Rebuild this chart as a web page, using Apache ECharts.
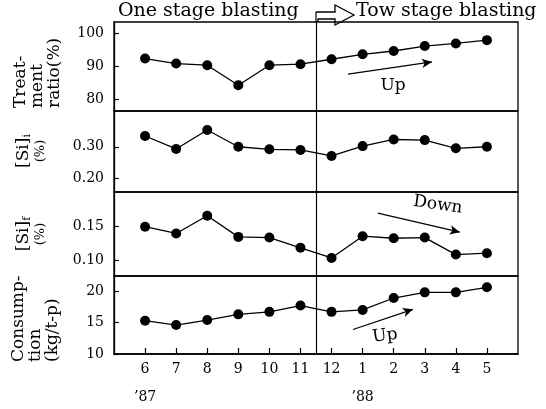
<!DOCTYPE html>
<html><head><meta charset="utf-8">
<script src="https://cdn.jsdelivr.net/npm/echarts@6/dist/echarts.min.js"></script>
<style>html,body{margin:0;padding:0;background:#fff}#c{width:546px;height:409px}</style>
</head><body><div id="c"></div>
<script>
// ---- data ----
const months = ['6','7','8','9','10','11','12','1','2','3','4','5'];
const yearLabels = ['’87','','','','','','','’88','','','',''];
const treatment = [92.3,90.8,90.3,84.2,90.3,90.6,92.1,93.6,94.6,96.1,96.9,97.9];
const siI = [0.334,0.293,0.353,0.300,0.292,0.290,0.271,0.302,0.323,0.321,0.295,0.300];
const siF = [0.149,0.139,0.165,0.134,0.133,0.118,0.103,0.135,0.132,0.133,0.108,0.110];
const consumption = [15.3,14.6,15.4,16.3,16.7,17.7,16.7,17.0,18.9,19.8,19.8,20.6];
const ticksTreat = [80,90,100];
const ticksSiI = [0.20,0.30];
const ticksSiF = [0.10,0.15];
const ticksCons = [10,15,20];
const dividerAt = 5.5; // between '11 and '12
// trend arrows [x0,y0,x1,y1] in data units, and their labels
const arrowTreat = [6.53,87.6,9.23,91.3];
const arrowSiF = [7.49,0.169,10.13,0.141];
const arrowCons = [6.69,13.9,8.62,17.1];
const textTreat = ['Up',7.98,84.2];
const textSiF = ['Down',9.42,0.181];
const textCons = ['Up',7.72,12.9];

const FONT = 'DejaVu Serif';
const panels = [
  {top:22, height:89, min:76.4, max:103.4, ticks:ticksTreat, data:treatment, fmt:v=>String(v)},
  {top:111, height:81, min:0.157, max:0.413, ticks:ticksSiI, data:siI, fmt:v=>v.toFixed(2)},
  {top:192, height:84, min:0.0765, max:0.2, ticks:ticksSiF, data:siF, fmt:v=>v.toFixed(2)},
  {top:276, height:78, min:10, max:22.4, ticks:ticksCons, data:consumption, fmt:v=>String(v)}
];
const idx = months.map((m,i)=>i);
const arrows = [arrowTreat, null, arrowSiF, arrowCons];

const chart = echarts.init(document.getElementById('c'), null, {renderer:'canvas'});
const option = {
  animation:false,
  backgroundColor:'#fff',
  grid: panels.map(p=>({left:114, width:404, top:p.top, height:p.height, show:true, borderColor:'#000', borderWidth:1.3, backgroundColor:'transparent'})),
  xAxis: panels.map((p,i)=>({
    type:'value', gridIndex:i, min:-1, max:12, show: i===3,
    axisLine:{show:true, onZero:false, lineStyle:{color:'#000', width:1.5}},
    axisTick:{show:true, inside:true, length:6, customValues:idx, lineStyle:{color:'#000', width:1.2}},
    axisLabel:{customValues:idx, fontFamily:FONT, fontSize:14, color:'#000', margin:8, lineHeight:14,
      formatter:v=>{const k=Math.round(v); return yearLabels[k] ? months[k]+'\n\n'+yearLabels[k] : months[k];}},
    splitLine:{show:false}
  })),
  yAxis: panels.map((p,i)=>({
    type:'value', gridIndex:i, min:p.min, max:p.max,
    axisLine:{show:true, onZero:false, lineStyle:{color:'#000', width:1.3}},
    axisTick:{show:true, inside:true, length:5, customValues:p.ticks, lineStyle:{color:'#000', width:1.2}},
    axisLabel:{customValues:p.ticks, formatter:p.fmt, fontFamily:FONT, fontSize:14, color:'#000', margin:10},
    splitLine:{show:false}
  })),
  series: panels.map((p,i)=>{
    const ml = [{xAxis:dividerAt}];
    const a = arrows[i];
    if (a) ml.push([{coord:[a[0],a[1]], symbol:'none'},{coord:[a[2],a[3]], symbol:'arrow', symbolSize:[7,10]}]);
    return {
      type:'line', xAxisIndex:i, yAxisIndex:i,
      data: p.data.map((v,k)=>[idx[k], v]),
      symbol:'circle', symbolSize:10, showSymbol:true,
      lineStyle:{color:'#000', width:1.3}, itemStyle:{color:'#000'},
      emphasis:{disabled:true},
      markLine:{silent:true, symbol:['none','none'], label:{show:false},
        lineStyle:{color:'#000', width:1.2, type:'solid'}, emphasis:{disabled:true}, data:ml}
    };
  })
};
chart.setOption(option);

// ---- annotations ----
const px = (g, x, y) => chart.convertToPixel({gridIndex:g}, [x, y]);
const divX = px(0, dividerAt, treatment[0])[0];
const g = [];
// header
g.push({type:'text', left:118, top:2, style:{text:'One stage blasting', font:'19px "DejaVu Serif"', fill:'#000'}});
g.push({type:'text', left:divX+40, top:2, style:{text:'Tow stage blasting', font:'19px "DejaVu Serif"', fill:'#000'}});
g.push({type:'line', shape:{x1:divX, y1:12, x2:divX, y2:22}, style:{stroke:'#000', lineWidth:1.2}});
g.push({type:'polyline', shape:{points:[[divX,12],[divX+19,12],[divX+19,5],[divX+38,15],[divX+19,25],[divX+19,19],[divX+2,19],[divX+2,22]]},
  style:{stroke:'#000', fill:null, lineWidth:1.3}});
// trend labels
function addLabel(gi, t, rot){
  const p = px(gi, t[1], t[2]);
  g.push({type:'text', x:p[0], y:p[1], rotation:rot||0, style:{text:t[0], font:'17px "DejaVu Serif"', fill:'#000', align:'center', verticalAlign:'middle'}});
}
addLabel(0, textTreat, 0);
addLabel(2, textSiF, -0.14);
addLabel(3, textCons, 0.12);
// axis names (rotated)
function addName(x, y, text, align, rich){
  g.push({type:'text', x:x, y:y, rotation:Math.PI/2,
    style:{text:text, font:'17px "DejaVu Serif"', fill:'#000', align:align, verticalAlign:'middle', lineHeight:17,
      rich: rich || {}}});
}
addName(38, 108, 'Treat-\nment\nratio(%)', 'left');
const richSub = {s:{fontSize:11, fontFamily:FONT, padding:[8,0,0,0]}, n:{fontSize:17, fontFamily:FONT}, p:{fontSize:13, fontFamily:FONT}};
addName(32, 151, '{n|[Si]}{s|i}\n{p|(%)}', 'center', richSub);
addName(32, 234, '{n|[Si]}{s|f}\n{p|(%)}', 'center', richSub);
addName(36, 362, 'Consump-\ntion\n(kg/t-p)', 'left');
chart.setOption({graphic:g});
</script></body></html>
